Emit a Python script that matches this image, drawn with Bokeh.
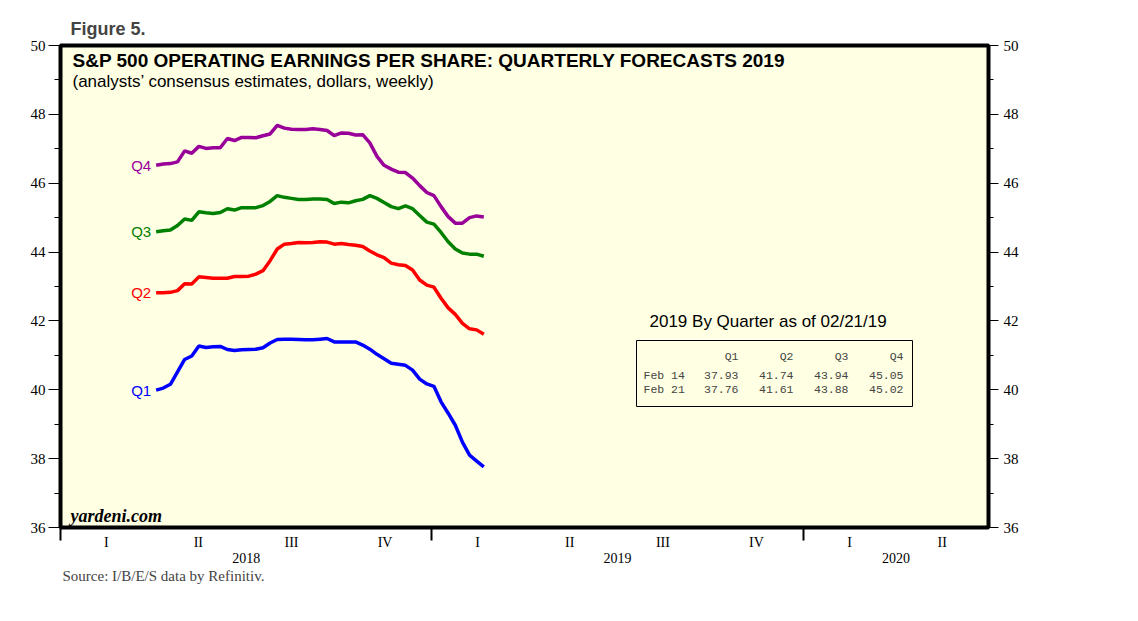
import pandas as pd
from bokeh.plotting import figure
from bokeh.models import Range1d, LinearAxis, FixedTicker, Label, BoxAnnotation, Title
from bokeh.embed import file_html
from bokeh.resources import INLINE

# ---------------- data ----------------
week_start = "2018-04-05"
week_end = "2019-02-21"

q1_eps = [39.99, 40.05, 40.16, 40.52, 40.88, 40.98, 41.27, 41.23, 41.25, 41.26,
          41.17, 41.14, 41.16, 41.17, 41.18, 41.22, 41.36, 41.46, 41.47, 41.47,
          41.46, 41.45, 41.45, 41.47, 41.49, 41.39, 41.39, 41.39, 41.39, 41.30,
          41.18, 41.03, 40.90, 40.77, 40.74, 40.71, 40.57, 40.31, 40.17, 40.10,
          39.65, 39.32, 38.97, 38.48, 38.10, 37.93, 37.76]
q2_eps = [42.82, 42.82, 42.83, 42.88, 43.08, 43.07, 43.28, 43.26, 43.24, 43.24,
          43.24, 43.29, 43.29, 43.30, 43.36, 43.46, 43.75, 44.09, 44.23, 44.25,
          44.28, 44.27, 44.28, 44.30, 44.29, 44.23, 44.25, 44.22, 44.20, 44.16,
          44.03, 43.92, 43.84, 43.68, 43.63, 43.61, 43.48, 43.19, 43.04, 42.98,
          42.66, 42.38, 42.19, 41.93, 41.77, 41.74, 41.61]
q3_eps = [44.59, 44.62, 44.64, 44.77, 44.96, 44.92, 45.17, 45.14, 45.12, 45.15,
          45.26, 45.22, 45.29, 45.29, 45.29, 45.35, 45.47, 45.64, 45.59, 45.56,
          45.53, 45.53, 45.54, 45.54, 45.53, 45.41, 45.45, 45.43, 45.49, 45.53,
          45.64, 45.56, 45.44, 45.32, 45.26, 45.34, 45.26, 45.06, 44.87, 44.81,
          44.57, 44.30, 44.09, 43.97, 43.94, 43.94, 43.88]
q4_eps = [46.52, 46.56, 46.57, 46.62, 46.94, 46.87, 47.07, 47.01, 47.03, 47.03,
          47.30, 47.24, 47.33, 47.33, 47.32, 47.38, 47.43, 47.68, 47.60, 47.57,
          47.56, 47.56, 47.58, 47.56, 47.53, 47.38, 47.46, 47.45, 47.40, 47.41,
          47.17, 46.78, 46.52, 46.41, 46.32, 46.31, 46.15, 45.93, 45.73, 45.64,
          45.32, 45.03, 44.84, 44.84, 45.00, 45.05, 45.02]

series_names = ["Q1", "Q2", "Q3", "Q4"]
series_colors = ["#0000FF", "#FF0000", "#008000", "#990099"]

table_title = "2019 By Quarter as of 02/21/19"
table_rows = ["Feb 14", "Feb 21"]
table_feb14 = ["37.93", "41.74", "43.94", "45.05"]
table_feb21 = ["37.76", "41.61", "43.88", "45.02"]

y_major = [36, 38, 40, 42, 44, 46, 48, 50]
y_minor = [37, 39, 41, 43, 45, 47, 49]
quarter_labels = ["I", "II", "III", "IV"]
years = [2018, 2019, 2020]
x_start = "2018-01-01"
x_end = "2020-07-01"

# ---------------- helpers ----------------
def ms(ts):
    return int(pd.Timestamp(ts).value // 10**6)

X0, X1 = ms(x_start), ms(x_end)
FL, FT, FW, FH = 60, 45, 928, 482   # frame geometry in page pixels

def px_x(px):
    return X0 + (px - FL) / FW * (X1 - X0)

def px_y(py):
    return 50 - (py - FT) / FH * 14

dates = pd.date_range(week_start, week_end, freq="7D")
x_ms = [ms(d) for d in dates]

SANS = "Liberation Sans"
SERIF = "Liberation Serif"
MONO = "Liberation Mono"

p = figure(frame_width=FW, frame_height=FH,
           x_range=Range1d(X0, X1), y_range=Range1d(36, 50),
           x_axis_location=None, y_axis_location=None,
           toolbar_location=None, output_backend="svg",
           min_border_left=60, min_border_right=134, min_border_top=45,
           min_border_bottom=62,
           background_fill_color="#FFFFE3", border_fill_color="white",
           outline_line_color="black", outline_line_width=4)
p.grid.visible = False

p.title.text = "Figure 5."
p.title.text_font = SANS
p.title.text_font_size = "18px"
p.title.text_font_style = "bold"
p.title.offset = 10
p.title.standoff = 14

# ---------------- axes ----------------
def y_axis(tick_out, minor_out, standoff):
    return LinearAxis(ticker=FixedTicker(ticks=y_major, minor_ticks=y_minor),
                      axis_line_color=None,
                      major_tick_out=tick_out, major_tick_in=0,
                      minor_tick_out=minor_out, minor_tick_in=0,
                      major_tick_line_color="black", minor_tick_line_color="black",
                      major_label_standoff=standoff,
                      major_label_text_font=SERIF,
                      major_label_text_font_size="15px",
                      major_label_text_color="black")

p.add_layout(y_axis(12, 6, 3), "left")
p.add_layout(y_axis(10, 5, 5), "right")

year_bounds = [ms(f"{y}-01-01") for y in years]
q_ticks, q_over = [], {}
for y in years:
    for qi, m in enumerate([1, 4, 7, 10]):
        s = pd.Timestamp(year=y, month=m, day=1)
        e = s + pd.DateOffset(months=3)
        if ms(e) > X1:
            continue
        mid = (ms(s) + ms(e)) // 2
        q_ticks.append(mid)
        q_over[mid] = quarter_labels[qi]

xq = LinearAxis(ticker=FixedTicker(ticks=q_ticks, minor_ticks=year_bounds),
                major_label_overrides=q_over, axis_line_color=None,
                major_tick_out=0, major_tick_in=0, major_tick_line_color=None,
                minor_tick_out=13, minor_tick_in=0, minor_tick_line_width=2,
                minor_tick_line_color="black",
                major_label_standoff=-6, major_label_text_font=SERIF,
                major_label_text_font_size="14px", major_label_text_color="black")
p.add_layout(xq, "below")

y_ticks, y_over = [], {}
for y in years:
    s = ms(f"{y}-01-01")
    e = min(ms(f"{y + 1}-01-01"), X1)
    mid = (s + e) // 2
    y_ticks.append(mid)
    y_over[mid] = str(y)
xy = LinearAxis(ticker=FixedTicker(ticks=y_ticks, minor_ticks=[]),
                major_label_overrides=y_over, axis_line_color=None,
                major_tick_out=0, major_tick_in=0, major_tick_line_color=None,
                minor_tick_line_color=None,
                major_label_standoff=0, major_label_text_font=SERIF,
                major_label_text_font_size="14px", major_label_text_color="black")
p.add_layout(xy, "below")

p.add_layout(Title(text="Source: I/B/E/S data by Refinitiv.", align="left", offset=2,
                   text_font=SERIF, text_font_size="15px", text_font_style="normal",
                   standoff=0), "below")

# ---------------- lines ----------------
for name, vals, col in zip(series_names, [q1_eps, q2_eps, q3_eps, q4_eps], series_colors):
    p.line(x_ms, vals, line_width=3.5, line_color=col)
    p.add_layout(Label(x=x_ms[0], y=vals[0], text=name, x_offset=-5,
                       text_align="right", text_baseline="middle",
                       text_color=col, text_font=SANS, text_font_size="15px"))

# ---------------- texts ----------------
p.add_layout(Label(x=px_x(72), y=px_y(59.5), text="S&P 500 OPERATING EARNINGS PER SHARE: QUARTERLY FORECASTS 2019",
                   text_font=SANS, text_font_size="19px", text_font_style="bold",
                   text_baseline="alphabetic", text_color="black"))
p.add_layout(Label(x=px_x(72), y=px_y(80.5), text="(analysts\u2019 consensus estimates, dollars, weekly)",
                   text_font=SANS, text_font_size="17px",
                   text_baseline="alphabetic", text_color="black"))
p.add_layout(Label(x=px_x(70), y=px_y(515), text="yardeni.com",
                   text_font=SERIF, text_font_size="18px", text_font_style="bold italic",
                   text_baseline="alphabetic", text_color="black"))

# ---------------- table ----------------
p.add_layout(Label(x=px_x(649), y=px_y(320.5), text=table_title,
                   text_font=SANS, text_font_size="17px",
                   text_baseline="alphabetic", text_color="black"))
p.add_layout(BoxAnnotation(left=px_x(636), right=px_x(912), top=px_y(340), bottom=px_y(406),
                           fill_color=None, fill_alpha=0, line_color="black",
                           line_alpha=1, line_width=1))
col_right = [738, 793, 848, 903]
for i, name in enumerate(series_names):
    p.add_layout(Label(x=px_x(col_right[i]), y=px_y(355.5), text=name, text_align="right",
                       text_font=MONO, text_font_size="11.5px", text_baseline="alphabetic"))
for r, (rname, vals) in enumerate(zip(table_rows, [table_feb14, table_feb21])):
    yb = [374.5, 389][r]
    p.add_layout(Label(x=px_x(643), y=px_y(yb), text=rname, text_align="left",
                       text_font=MONO, text_font_size="11.5px", text_baseline="alphabetic"))
    for i, v in enumerate(vals):
        p.add_layout(Label(x=px_x(col_right[i]), y=px_y(yb), text=v, text_align="right",
                           text_font=MONO, text_font_size="11.5px", text_baseline="alphabetic"))

open("out.html", "w").write(file_html(p, INLINE))
